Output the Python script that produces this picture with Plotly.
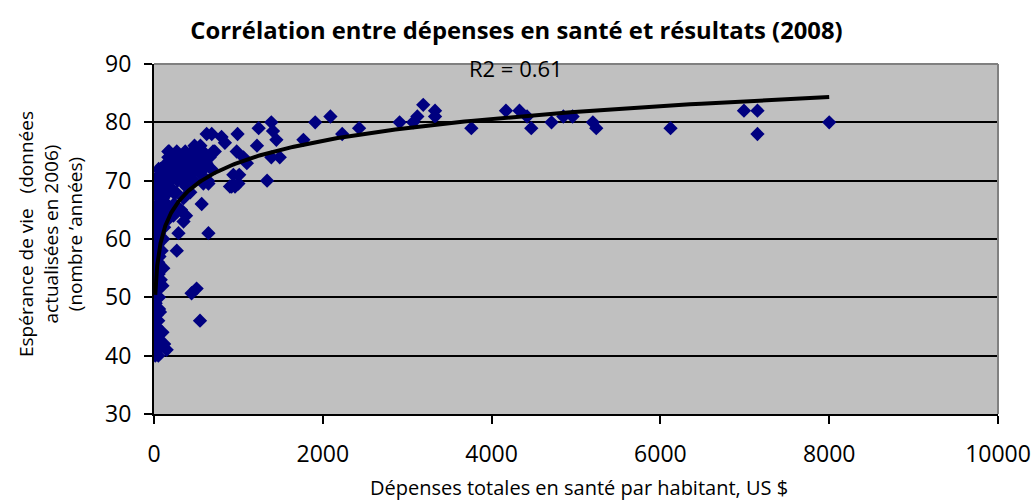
import numpy as np
import plotly.graph_objects as go

# Health spending per capita (US $) and life expectancy (years)
spend = [
    # < 100 $
    16, 15, 18, 20, 22, 25, 28, 30, 35, 40, 20, 30, 25, 35, 45, 18, 28, 40, 50, 22,
    35, 45, 55, 30, 60, 40, 50, 65, 35, 70, 55, 45, 80, 60, 90, 30, 70, 50, 85, 40,
    75, 95, 60, 55, 80, 70, 150, 51, 120, 100, 35, 71, 16, 60, 25, 20, 65,
    20, 25, 30, 18, 22, 28, 32, 38, 42, 26, 48, 33, 45, 55, 40, 50, 60, 35, 65, 75,
    85, 95, 100, 90, 110, 80,
    # 100 - 300 $
    110, 120, 130, 150, 170, 180, 200, 220, 250, 140, 160, 190, 210, 240, 260, 280,
    300, 130, 150, 170, 120, 110, 105, 180, 200, 230, 270, 290, 160, 140, 260, 240,
    280, 230, 170, 330, 290, 350, 230, 270,
    # 300 - 700 $
    310, 330, 350, 370, 400, 420, 450, 480, 500, 520, 550, 580, 600, 620, 340, 360,
    380, 390, 410, 430, 460, 470, 490, 530, 560, 590, 640, 660, 680, 700, 350, 430,
    320, 380, 585, 645, 565, 645, 505, 445, 545, 624, 684, 720,
    # > 700 $
    800, 840, 990, 980, 1060, 1100, 1240, 1220, 1390, 1410, 1450, 1390, 1490, 1770,
    1910, 2090, 2230, 2430, 2910, 3070, 3120, 3190, 3330, 3330, 3760, 4170, 4330,
    4420, 4470, 4710, 4850, 4960, 5200, 5240, 6120, 6990, 7150, 7150, 8000, 940,
    900, 1000, 920, 1340, 1010, 960,
]
life = [
    48, 40, 44, 42, 45, 41, 46, 43, 47, 48, 49, 50, 51, 52, 53, 54, 55, 55, 56, 57,
    58, 59, 60, 60, 61, 62, 63, 63, 64, 65, 65, 66, 66, 67, 67, 68, 68, 69, 69, 70,
    70, 71, 71, 72, 72, 41.5, 41, 40, 42, 44, 43, 47.5, 46, 50, 62, 58, 52,
    40.5, 43, 45, 47, 50, 52, 54, 56, 57, 59, 61, 48, 50, 54, 44, 46, 48, 41, 57, 60,
    62, 64, 52, 58, 55, 53,
    60, 62, 64, 66, 68, 69, 70, 71, 72, 70, 71, 72, 73, 74, 73, 72,
    71, 72, 73, 74, 71, 69, 67, 75, 74, 72, 75, 74, 65, 63, 68, 66,
    70, 68, 75, 70, 61, 63, 64, 58,
    73, 74, 72, 75, 74, 73, 75, 76, 74, 75, 76, 75, 74, 73, 70, 71,
    69, 73, 72, 71, 73, 70, 72, 73, 71, 72, 70, 74, 72, 75, 67, 68,
    65, 64, 69.5, 69.5, 66, 61, 51.5, 50.7, 46, 78, 78, 75,
    77.5, 76.5, 78, 75, 74, 73, 79, 76, 80, 78.5, 77, 74, 74, 77,
    80, 81, 78, 79, 80, 80, 81, 83, 82, 81, 79, 82, 82,
    81, 79, 80, 81, 81, 80, 79, 79, 82, 82, 78, 80, 71,
    69, 69.5, 69, 70, 71, 69,
]
# Logarithmic trendline shown on the chart: y = trend_a * ln(x) + trend_b
# (coefficients), R2 label as printed
trend_a = 5.4
trend_b = 35.8
r2_label = "R2 = 0.61"
title_text = "Corrélation entre dépenses en santé et résultats (2008)"
x_title = "Dépenses totales en santé par habitant, US $"
y_title = "Espérance de vie   (données<br>actualisées en 2006)<br>(nombre ’années)"
x_ticks = [0, 2000, 4000, 6000, 8000, 10000]
y_ticks = [30, 40, 50, 60, 70, 80, 90]

xs_arr = np.array(spend, dtype=float)
trend_x = np.geomspace(xs_arr.min(), xs_arr.max(), 300)
trend_y = trend_a * np.log(trend_x) + trend_b

fig = go.Figure()
fig.add_trace(go.Scatter(
    x=spend, y=life, mode="markers",
    marker=dict(symbol="diamond", size=11, color="#000080", line=dict(width=0)),
    showlegend=False, hoverinfo="x+y",
))
fig.add_trace(go.Scatter(
    x=trend_x, y=trend_y, mode="lines",
    line=dict(color="black", width=4), showlegend=False, hoverinfo="skip",
))

fig.update_layout(
    width=1033, height=500,
    margin=dict(l=154, r=35, t=64, b=86),
    paper_bgcolor="white", plot_bgcolor="#C0C0C0",
    title=dict(text="<b>" + title_text + "</b>", x=0.5, xref="container",
               xanchor="center", y=1 - 31 / 500, yanchor="middle",
               font=dict(family="Open Sans", size=23.8, color="black")),
    font=dict(family="Open Sans", color="black"),
)
fig.update_xaxes(
    range=[0, 10000], tickvals=x_ticks, ticktext=[str(v) for v in x_ticks],
    showgrid=False, zeroline=False, automargin=False,
    showline=True, linecolor="black", linewidth=2,
    ticks="outside", ticklen=8, tickwidth=2, tickcolor="black",
    tickfont=dict(family="Open Sans", size=23, color="black"),
    ticklabelstandoff=10,
)
fig.update_yaxes(
    range=[30, 90], tickvals=y_ticks, ticktext=[str(v) for v in y_ticks],
    showgrid=True, gridcolor="black", gridwidth=2, zeroline=False, automargin=False,
    showline=True, linecolor="black", linewidth=2,
    ticks="outside", ticklen=8, tickwidth=2, tickcolor="black",
    tickfont=dict(family="Open Sans", size=23, color="black"),
    ticklabelstandoff=8,
)
# gray top and right frame
fig.add_shape(type="line", xref="x domain", yref="y domain", x0=0, x1=1, y0=1, y1=1,
              line=dict(color="#808080", width=2), layer="above")
fig.add_shape(type="line", xref="x domain", yref="y domain", x0=1, x1=1, y0=0, y1=1,
              line=dict(color="#808080", width=2), layer="above")

fig.add_annotation(text=r2_label, xref="paper", yref="paper", x=(516 - 154) / 844,
                   y=1 - (68 - 64) / 350, xanchor="center", yanchor="middle",
                   showarrow=False, font=dict(family="Open Sans", size=22, color="black"))
fig.add_annotation(text=x_title, xref="paper", yref="paper", x=(579 - 154) / 844,
                   y=-(487 - 414) / 350, xanchor="center", yanchor="middle",
                   showarrow=False, font=dict(family="Open Sans", size=20, color="black"))
fig.add_annotation(text=y_title, xref="paper", yref="paper", x=(50 - 154) / 844,
                   y=0.5 + (239 - 234) / 350, xanchor="center", yanchor="middle",
                   textangle=-90, showarrow=False,
                   font=dict(family="Open Sans", size=19, color="black"))

fig.write_html("out.html", config={"displayModeBar": False},
               post_script="document.body.style.margin='0px';")
